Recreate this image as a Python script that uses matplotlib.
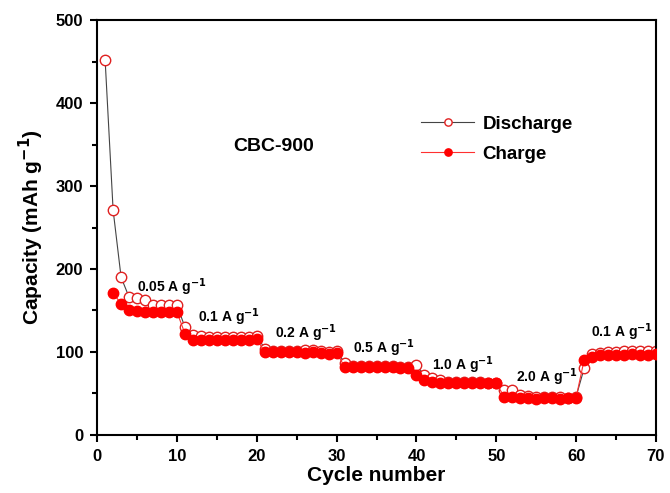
import numpy as np
import matplotlib
matplotlib.use('Agg')
import matplotlib.pyplot as plt
from matplotlib.ticker import MultipleLocator

plt.rcParams['font.family'] = ['Liberation Sans', 'DejaVu Sans']
plt.rcParams['font.weight'] = 'bold'
plt.rcParams['mathtext.default'] = 'bf'

# Discharge capacity (open circles), cycles 1-70
cyc_dis = np.arange(1, 71)
discharge = [452, 271, 190, 166, 165, 162, 157, 157, 156, 156,
             130, 120, 119, 118, 118, 118, 118, 118, 118, 119,
             104, 101, 101, 101, 101, 102, 102, 101, 100, 101,
             87, 83, 83, 83, 83, 83, 83, 82, 82, 84,
             72, 68, 66, 64, 64, 64, 64, 64, 63, 63,
             54, 54, 48, 47, 46, 46, 46, 46, 45, 46,
             80, 97, 99, 100, 100, 101, 101, 101, 101, 101]

# Charge capacity (filled circles), cycles 2-70
cyc_chg = np.arange(2, 71)
charge = [171, 158, 151, 149, 148, 148, 148, 148, 148,
          122, 114, 114, 114, 114, 114, 114, 114, 114, 115,
          100, 100, 100, 100, 100, 99, 100, 99, 98, 99,
          82, 82, 82, 82, 82, 82, 82, 81, 81, 72,
          66, 64, 63, 63, 62, 62, 62, 62, 62, 62,
          46, 46, 45, 44, 43, 44, 44, 43, 44, 45,
          90, 94, 96, 96, 96, 96, 97, 96, 96, 97]

rate_labels = ['0.05', '0.1', '0.2', '0.5', '1.0', '2.0', '0.1']
rate_x = [5.0, 12.6, 22.3, 32.0, 42.0, 52.5, 61.9]
rate_y = [178, 142, 123, 105, 84, 69, 124]

fig = plt.figure(figsize=(6.7, 4.93), dpi=100)
ax = fig.add_axes([0.145, 0.118, 0.834, 0.841])

ax.plot(cyc_dis, discharge, color='#444444', lw=0.8, marker='o', ms=7.5,
        mfc='white', mec='#e02020', mew=1.0, label='Discharge', zorder=2)
ax.plot(cyc_chg, charge, color='#ff3030', lw=0.8, marker='o', ms=7.5,
        mfc='red', mec='red', label='Charge', zorder=3)

for lab, x, y in zip(rate_labels, rate_x, rate_y):
    ax.text(x, y, lab + r' A g$^{-1}$', fontsize=10, fontweight='bold', va='center')

ax.text(17, 348, 'CBC-900', fontsize=14, fontweight='bold', va='center')

ax.set_xlim(0, 70)
ax.set_ylim(0, 500)
ax.xaxis.set_major_locator(MultipleLocator(10))
ax.xaxis.set_minor_locator(MultipleLocator(5))
ax.yaxis.set_major_locator(MultipleLocator(100))
ax.yaxis.set_minor_locator(MultipleLocator(50))
ax.tick_params(which='major', direction='out', length=5, width=1.5, labelsize=12, pad=5)
ax.tick_params(which='minor', direction='out', length=3.5, width=1.5)
for lbl in ax.get_xticklabels() + ax.get_yticklabels():
    lbl.set_fontweight('bold')
for s in ax.spines.values():
    s.set_linewidth(1.5)

ax.set_xlabel('Cycle number', fontsize=15, fontweight='bold', labelpad=2)
ax.set_ylabel(r'Capacity (mAh g$^{-1}$)', fontsize=15, fontweight='bold', labelpad=7)

ax.legend(loc='upper left', bbox_to_anchor=(0.55, 0.81), frameon=False,
          handlelength=2.8, handletextpad=0.45, markerscale=0.7, labelspacing=0.68,
          prop={'weight': 'bold', 'size': 13.5})

fig.savefig('out.png', dpi=100)
